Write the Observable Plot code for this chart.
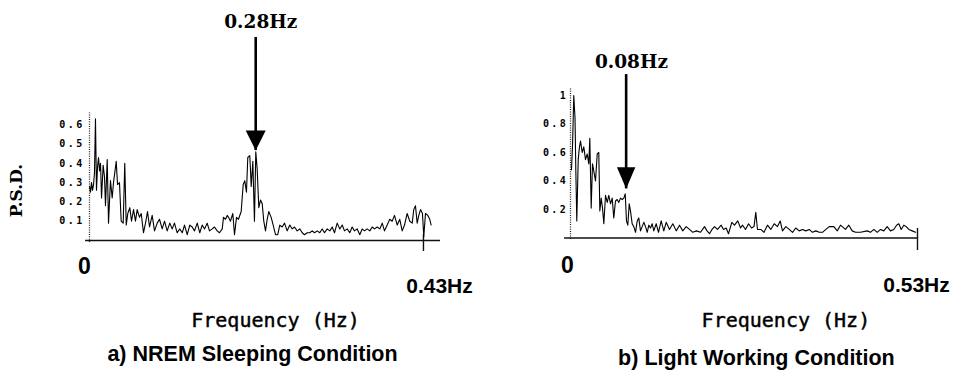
<!DOCTYPE html>
<html><head><meta charset="utf-8">
<script src="https://cdn.jsdelivr.net/npm/d3@7"></script>
<script src="https://cdn.jsdelivr.net/npm/@observablehq/plot@0.6"></script>
<style>
html,body{margin:0;padding:0;background:#fff;}
#wrap{display:flex;width:958px;height:373px;}
#wrap svg{display:block;}
g[aria-label="y-axis tick label"] text{letter-spacing:2.4px;}
</style></head><body><div id="wrap"></div>
<script>
// ---- Panel a) NREM Sleeping Condition ----
const freqA = [0,0.0013,0.0026,0.0039,0.0052,0.0064,0.0077,0.0090,0.0103,0.0116,0.0129,0.0142,0.0155,0.0176,0.0193,0.0206,0.0228,0.0245,0.0270,0.0292,0.0309,0.0344,0.0361,0.0386,0.0408,0.0434,0.0454,0.0473,0.0493,0.0519,0.0541,0.0567,0.0592,0.0614,0.0644,0.0666,0.0695,0.0721,0.0747,0.0773,0.0807,0.0837,0.0872,0.0901,0.0936,0.0966,0.1000,0.1034,0.1065,0.1094,0.1129,0.1163,0.1194,0.1223,0.1258,0.1291,0.1322,0.1352,0.1387,0.1420,0.1451,0.1481,0.1515,0.1545,0.1580,0.1609,0.1644,0.1674,0.1709,
0.1725,0.1751,0.1773,0.1790,0.1815,0.1845,0.1867,0.1893,0.1918,0.1953,0.1979,0.1999,0.2021,0.2038,0.2064,0.2082,0.2103,0.2124,0.2141,0.2159,0.2180,0.2202,0.2224,0.2244,0.2266,0.2288,0.2308,0.2339,0.2365,0.2395,0.2424,0.2450,0.2481,0.2511,0.2545,0.2579,0.2610,0.2639,0.2674,0.2708,0.2739,0.2768,0.2803,0.2836,0.2867,0.2897,0.2932,0.2965,0.2996,0.3026,0.3060,0.3094,0.3125,0.3154,0.3189,0.3223,0.3254,0.3283,0.3318,0.3351,0.3382,0.3412,0.3447,0.3480,0.3511,0.3541,0.3575,0.3609,0.3640,0.3669,0.3704,0.3738,0.3769,0.3798,0.3833,0.3866,0.3897,0.3927,0.3962,0.3995,0.4026,0.4056,0.4090,0.4124,0.4155,0.4175,0.4197,0.4219,0.4240,0.4262,0.4287,0.4304,0.4326,0.4356,0.4381,0.4399];
const psdA = [0.28,0.25,0.30,0.26,0.29,0.35,0.63,0.26,0.38,0.43,0.36,0.40,0.22,0.39,0.33,0.18,0.42,0.09,0.31,0.22,0.30,0.41,0.29,0.30,0.10,0.09,0.40,0.08,0.14,0.17,0.10,0.16,0.10,0.16,0.12,0.14,0.04,0.09,0.15,0.07,0.13,0.05,0.09,0.11,0.06,0.10,0.05,0.09,0.06,0.09,0.04,0.06,0.04,0.08,0.03,0.08,0.07,0.05,0.09,0.04,0.08,0.06,0.09,0.05,0.06,0.07,0.05,0.04,0.06,
0.12,0.11,0.13,0.12,0.10,0.14,0.03,0.12,0.11,0.15,0.29,0.31,0.25,0.43,0.44,0.28,0.41,0.10,0.46,0.37,0.17,0.21,0.19,0.10,0.05,0.11,0.15,0.12,0.08,0.03,0.03,0.08,0.07,0.09,0.05,0.08,0.06,0.07,0.05,0.06,0.04,0.03,0.04,0.04,0.05,0.04,0.05,0.04,0.06,0.04,0.06,0.05,0.07,0.04,0.09,0.06,0.08,0.05,0.06,0.04,0.07,0.05,0.06,0.03,0.06,0.05,0.06,0.05,0.07,0.06,0.07,0.06,0.09,0.05,0.08,0.11,0.10,0.13,0.08,0.11,0.05,0.08,0.14,0.10,0.09,0.16,0.18,0.09,0.13,0.16,0.14,0.02,0.14,0.13,0.11,0.08];
const ticksA = [0.1,0.2,0.3,0.4,0.5,0.6];
const peakA = [{freq: 0.214, psd: 0.466, label: "0.28Hz"}];
const endA = [{freq: 0.43, label: "0.43Hz"}];
const captionA = "a) NREM Sleeping Condition";

// ---- Panel b) Light Working Condition ----
const freqB = [0.0015,0.0031,0.0050,0.0069,0.0081,0.0096,0.0118,0.0137,0.0153,0.0179,0.0203,0.0229,0.0255,0.0280,0.0295,0.0316,0.0336,0.0356,0.0382,0.0408,0.0432,0.0448,0.0469,0.0489,0.0509,0.0535,0.0561,0.0585,0.0611,0.0637,0.0661,0.0687,0.0713,0.0738,0.0764,0.0790,0.0814,0.0836,0.0855,0.0875,0.0897,0.0916,0.0942,0.0967,0.0993,0.1019,0.1043,0.1069,0.1095,0.1120,0.1146,0.1172,0.1196,0.1222,0.1248,0.1272,0.1309,0.1344,0.1385,0.1425,0.1462,0.1512,0.1563,0.1615,0.1665,0.1715,0.1767,0.1818,0.1868,0.1925,0.1986,0.2047,0.2085,0.2123,0.2161,0.2200,0.2245,0.2302,0.2337,0.2378,0.2413,0.2464,0.2505,0.2555,0.2597,0.2627,0.2673,0.2719,0.2765,0.2803,0.2830,0.2856,0.2906,0.2955,0.3009,0.3059,0.3111,0.3162,0.3203,0.3238,0.3289,0.3341,0.3391,0.3441,0.3493,0.3544,0.3594,0.3646,0.3696,0.3747,0.3799,0.3849,0.3900,0.3952,0.4022,0.4074,0.4124,0.4200,0.4251,0.4303,0.4353,0.4430,0.4532,0.4582,0.4633,0.4685,0.4735,0.4786,0.4837,0.4888,0.4938,0.4980,0.5015,0.5051,0.5091,0.5128,0.5168,0.5219,0.5270];
const psdB = [0.48,0.65,1.00,0.84,0.48,0.12,0.55,0.64,0.68,0.60,0.64,0.55,0.59,0.52,0.70,0.21,0.52,0.47,0.40,0.59,0.60,0.19,0.28,0.21,0.10,0.30,0.25,0.30,0.24,0.28,0.14,0.26,0.27,0.25,0.28,0.27,0.28,0.31,0.12,0.09,0.24,0.19,0.10,0.08,0.04,0.12,0.14,0.05,0.08,0.11,0.08,0.04,0.09,0.07,0.10,0.05,0.10,0.04,0.12,0.05,0.11,0.06,0.10,0.05,0.09,0.05,0.08,0.06,0.04,0.05,0.04,0.08,0.05,0.03,0.06,0.08,0.06,0.09,0.06,0.07,0.03,0.11,0.09,0.12,0.07,0.09,0.06,0.10,0.07,0.08,0.18,0.06,0.06,0.04,0.09,0.06,0.10,0.08,0.12,0.05,0.08,0.06,0.04,0.07,0.05,0.06,0.05,0.06,0.04,0.05,0.04,0.04,0.06,0.08,0.08,0.05,0.09,0.06,0.09,0.05,0.04,0.04,0.05,0.04,0.06,0.04,0.06,0.05,0.08,0.05,0.06,0.09,0.10,0.06,0.09,0.08,0.06,0.05,0.04];
const ticksB = [0.2,0.4,0.6,0.8,1];
const peakB = [{freq: 0.085, psd: 0.345, label: "0.08Hz"}];
const endB = [{freq: 0.53, label: "0.53Hz"}];
const captionB = "b) Light Working Condition";

const xLabel = "Frequency (Hz)";
const yLabel = "P.S.D.";
const originLabel = "0";

// filled downward arrowhead with its tip at the data point
const downHead = k => ({draw(ctx, size) {
  const r = Math.sqrt(size / Math.PI);
  ctx.moveTo(-r, -k * r); ctx.lineTo(r, -k * r); ctx.lineTo(0, 0); ctx.closePath();
}});

const serif = {fontFamily: "DejaVu Serif", fontWeight: "bold", fill: "#000"};
const sansB = {fontFamily: "Liberation Sans", fontWeight: "bold", fill: "#000"};

function panel(o) {
  const data = o.freq.map((f, i) => ({f, v: o.psd[i]}));
  const marks = [
    Plot.ruleY([0], {x1: o.ax1, x2: o.ax2, stroke: "#111", strokeWidth: 1.3}),
    Plot.ruleX([0], {y1: o.yb, y2: o.ytop, stroke: "#222", strokeWidth: 1.3, strokeDasharray: "1,1.3"}),
    Plot.ruleX(o.end, {x: "freq", y1: o.t1, y2: o.t2, stroke: "#111", strokeWidth: 1.4}),
    Plot.axisY(o.ticks, {tickSize: 0, tickPadding: o.tp, tickFormat: o.fmt, fontFamily: "DejaVu Sans Mono", fontSize: 10, fontWeight: "bold", fill: "#000", label: null}),
    Plot.line(data, {x: "f", y: "v", stroke: "#000", strokeWidth: 1.1}),
    Plot.ruleX(o.peak, {x: "freq", y1: "psd", y2: o.shaftTop, stroke: "#000", strokeWidth: 2.6}),
    Plot.dot(o.peak, {x: "freq", y: "psd", r: o.hr, symbol: downHead(o.hk), fill: "#000", stroke: "none"}),
    Plot.text(o.peak, {x: "freq", y: o.plY, dx: o.pdx, text: "label", fontSize: 18.5, lineAnchor: "middle", ...serif}),
    Plot.text([originLabel], {x: 0, y: o.zy, dx: o.zdx, fontSize: 23, lineAnchor: "middle", ...sansB}),
    Plot.text(o.end, {x: "freq", y: o.ey, dx: o.edx, text: "label", fontSize: 21, lineAnchor: "middle", ...sansB}),
    Plot.text([xLabel], {x: o.xlx, y: o.xly, fontSize: 20, fontFamily: "DejaVu Sans Mono", fill: "#000", stroke: "#000", strokeWidth: 0.45, lineAnchor: "middle"}),
    Plot.text([o.caption], {x: o.cx, y: o.cy, fontSize: 21.5, lineAnchor: "middle", ...sansB})
  ];
  if (o.ylab) marks.push(Plot.text([yLabel], {x: o.ylx, y: o.yly, rotate: -90, fontSize: 17, lineAnchor: "middle", ...serif}));
  return Plot.plot({
    width: 479, height: 373,
    marginLeft: o.ml, marginRight: o.mr, marginTop: o.mt, marginBottom: o.mb,
    x: {domain: o.xd, axis: null},
    y: {domain: o.yd},
    style: {background: "white", color: "#000"},
    marks
  });
}

const wrap = document.getElementById("wrap");
wrap.append(panel({
  freq: freqA, psd: psdA, ticks: ticksA, peak: peakA, end: endA, caption: captionA,
  fmt: d3.format(".1f"),
  ml: 89, mr: 40.5, mt: 114.55, mb: 133, xd: [0, 0.45], yd: [0, 0.65],
  ax1: -0.005, ax2: 0.452, yb: -0.01, ytop: 0.66, t1: -0.057, t2: 0.03, tp: 4.9,
  shaftTop: 1.052, hr: 10, hk: 2, plY: 1.132, pdx: 5,
  zy: -0.137, zdx: -5, ey: -0.236, edx: 16,
  xlx: 0.2395, xly: -0.417, cx: 0.2099, cy: -0.591,
  ylab: true, ylx: -0.094, yly: 0.259
}));
wrap.append(panel({
  freq: freqB, psd: psdB, ticks: ticksB, peak: peakB, end: endB, caption: captionB,
  fmt: d => d === 1 ? "1" : d3.format(".1f")(d),
  ml: 91, mr: 41, mt: 87.9, mb: 135.5, xd: [0, 0.53], yd: [0, 1.05],
  ax1: -0.009, ax2: 0.5316, yb: -0.01, ytop: 1.055, t1: -0.088, t2: 0.067, tp: 2.3,
  shaftTop: 1.147, hr: 9.2, hk: 2.35, plY: 1.234, pdx: 5.3,
  zy: -0.193, zdx: -3, ey: -0.33, edx: -1,
  xlx: 0.329, xly: -0.579, cx: 0.284, cy: -0.842,
  ylab: false
}));
</script>
</body></html>
